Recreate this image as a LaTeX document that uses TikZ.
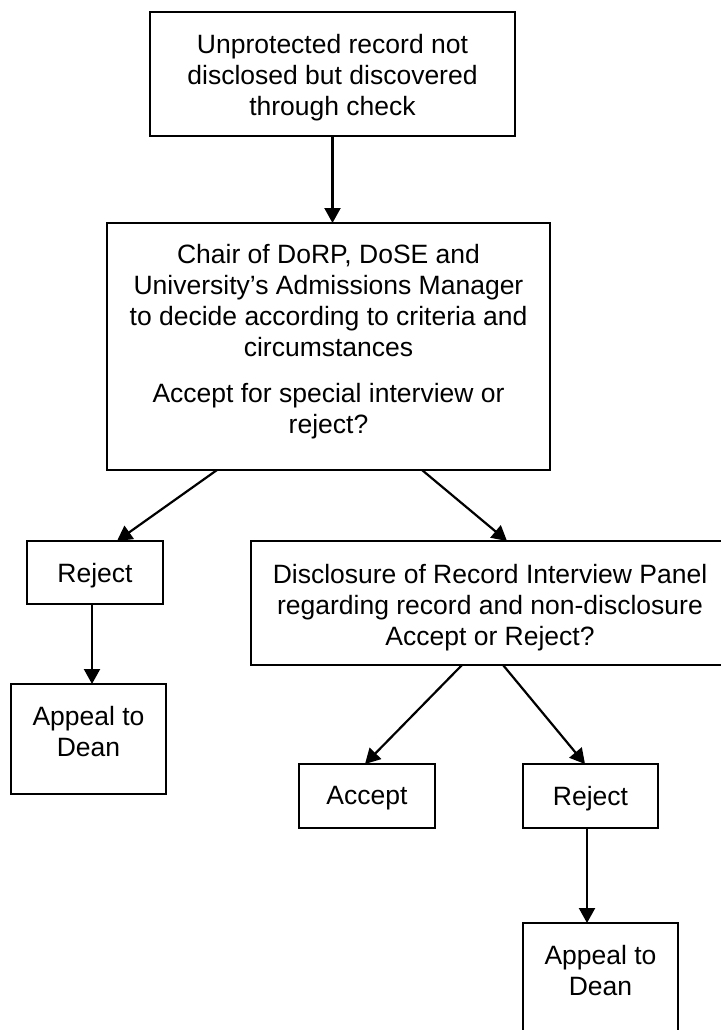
\documentclass[tikz,border=0pt]{standalone}
\usepackage{fontspec}
\setmainfont{Liberation Sans}
\usetikzlibrary{arrows.meta}
\begin{document}
\begin{tikzpicture}[x=1pt,y=-1pt,
  box/.style={draw, rectangle, line width=2.5pt, inner sep=0pt, outer sep=0pt},
  txt/.style={align=center, inner sep=0pt, font=\fontsize{26.5}{31}\selectfont},
  arr/.style={line width=2.2pt, -{Triangle[length=15pt,width=16pt]}}]
\useasboundingbox (0,0) rectangle (720,1030);

\node[box, minimum width=365pt, minimum height=124pt] (top) at (332.5,74) {};
\node[box, minimum width=443pt, minimum height=247pt] (chair) at (328.5,346.5) {};
\node[box, minimum width=136pt, minimum height=63pt] (rejL) at (95,572.5) {};
\node[box, minimum width=155pt, minimum height=110pt] (appL) at (88.5,739) {};
\node[box, minimum width=471pt, minimum height=124pt] (disc) at (486.5,603) {};
\node[box, minimum width=136pt, minimum height=64pt] (acc) at (367,796) {};
\node[box, minimum width=135pt, minimum height=64pt] (rejR) at (590.5,796) {};
\node[box, minimum width=155pt, minimum height=111pt] (appR) at (600.5,978.5) {};

\node[txt, anchor=north] (top-t) at ([yshift=-22pt]top.north) {Unprotected record not\\disclosed but discovered\\through check};
\node[txt, anchor=north] (chair-t) at ([yshift=-21pt]chair.north) {Chair of DoRP, DoSE and\\University’s Admissions Manager\\to decide according to criteria and\\circumstances\\[15pt]Accept for special interview or\\reject?};
\node[txt, anchor=north] (rejL-t) at ([yshift=-22pt]rejL.north) {Reject};
\node[txt, anchor=north] (appL-t) at ([yshift=-22pt]appL.north) {Appeal to\\Dean};
\node[txt, anchor=north] (disc-t) at ([yshift=-23pt]disc.north west -| 490,0) {Disclosure of Record Interview Panel\\regarding record and non-disclosure\\Accept or Reject?};
\node[txt, anchor=north] (acc-t) at ([yshift=-22pt]acc.north) {Accept};
\node[txt, anchor=north] (rejR-t) at ([yshift=-22pt]rejR.north) {Reject};
\node[txt, anchor=north] (appR-t) at ([yshift=-22pt]appR.north) {Appeal to\\Dean};

\coordinate (c1) at ([xshift=110pt]chair.south west);
\coordinate (c2) at ([xshift=90pt]rejL.north west);
\coordinate (c3) at ([xshift=315pt]chair.south west);
\coordinate (c4) at ([xshift=256pt]disc.north west);
\coordinate (c5) at ([xshift=211pt]disc.south west);
\coordinate (c6) at ([xshift=66pt]acc.north west);
\coordinate (c7) at ([xshift=252pt]disc.south west);
\coordinate (c8) at ([xshift=62pt]rejR.north west);
\coordinate (c9) at ([xshift=65pt]rejL.south west);
\coordinate (c10) at ([xshift=64pt]rejR.south west);

\draw[arr] (top.south) -- (top.south |- chair.north);
\draw[arr] (c1) -- (c2);
\draw[arr] (c3) -- (c4);
\draw[arr] (c5) -- (c6);
\draw[arr] (c7) -- (c8);
\draw[arr] (c9) -- (c9 |- appL.north);
\draw[arr] (c10) -- (c10 |- appR.north);
\end{tikzpicture}
\end{document}
